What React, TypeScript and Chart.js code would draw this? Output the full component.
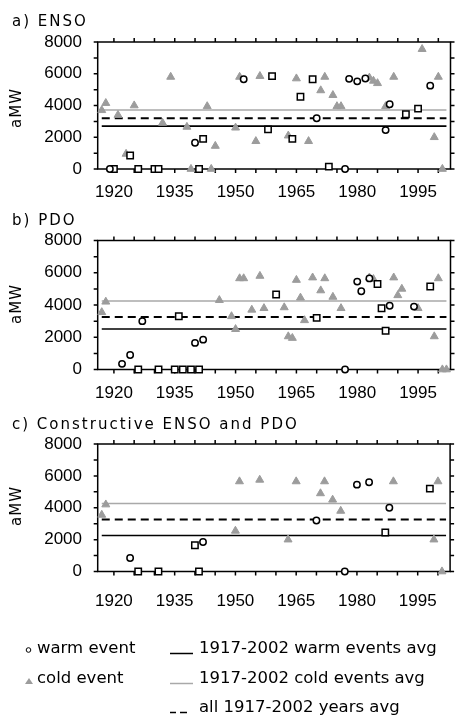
import React, { useEffect, useRef } from 'react';
import Chart from 'chart.js/auto';

// ---------- data ----------
const yearTicks = [1920, 1935, 1950, 1965, 1980, 1995];
const valueTicks = [0, 2000, 4000, 6000, 8000];
const yearMin = 1916;
const yearMax = 2003;
const avgStartYear = 1917;
const avgEndYear = 2002;

const panelTitles = ['a) ENSO', 'b) PDO', 'c) Constructive ENSO and PDO'];
const warmAvg = [2700, 2510, 2260];
const coldAvg = [3720, 4250, 4270];
const allAvg = [3200, 3260, 3260];

// a) ENSO
const ensoColdYears = [1917, 1918, 1921, 1923, 1925, 1932, 1934, 1938, 1939, 1943, 1944, 1945, 1950, 1951, 1955, 1956, 1963, 1965, 1968, 1971, 1972, 1974, 1975, 1976, 1983, 1984, 1985, 1987, 1989, 1996, 1999, 2000, 2001];
const ensoColdValues = [3700, 4150, 3400, 950, 4000, 2900, 5800, 2650, 0, 3950, 0, 1450, 2600, 5800, 1750, 5850, 2100, 5700, 1750, 4950, 5800, 4650, 3950, 3950, 5750, 5550, 5400, 3950, 5800, 7550, 2000, 5800, 0];
const ensoWarmYears = [1919, 1940, 1952, 1970, 1977, 1978, 1980, 1982, 1987, 1988, 1998];
const ensoWarmValues = [0, 1650, 5650, 3200, 0, 5680, 5520, 5700, 2450, 4080, 5250];
const ensoSquareYears = [1920, 1924, 1926, 1930, 1931, 1941, 1942, 1958, 1959, 1964, 1966, 1969, 1973, 1992, 1995];
const ensoSquareValues = [0, 850, 0, 0, 0, 0, 1900, 2500, 5850, 1900, 4550, 5650, 150, 3450, 3800];

// b) PDO
const pdoColdYears = [1917, 1918, 1946, 1949, 1950, 1951, 1952, 1954, 1956, 1957, 1962, 1963, 1964, 1965, 1966, 1967, 1969, 1971, 1972, 1974, 1976, 1983, 1984, 1989, 1990, 1991, 1995, 1999, 2000, 2001, 2002];
const pdoColdValues = [3550, 4200, 4300, 3300, 2500, 5650, 5650, 3700, 5800, 3800, 3850, 2050, 1950, 5550, 4450, 3050, 5700, 4900, 5650, 4500, 3800, 5700, 5600, 5700, 4600, 5000, 3800, 2050, 5650, 0, 0];
const pdoWarmYears = [1922, 1924, 1927, 1940, 1942, 1977, 1980, 1981, 1983, 1988, 1994];
const pdoWarmValues = [350, 900, 3000, 1650, 1850, 0, 5450, 4850, 5650, 3950, 3900];
const pdoSquareYears = [1926, 1931, 1935, 1936, 1937, 1939, 1941, 1960, 1970, 1985, 1986, 1987, 1998];
const pdoSquareValues = [0, 0, 0, 3300, 0, 0, 0, 4650, 3200, 5300, 3800, 2400, 5150];

// c) Constructive ENSO and PDO
const bothColdYears = [1917, 1918, 1950, 1951, 1956, 1963, 1965, 1971, 1972, 1974, 1976, 1989, 1999, 2000, 2001];
const bothColdValues = [3550, 4200, 2550, 5650, 5750, 2000, 5650, 4900, 5650, 4500, 3800, 5650, 2000, 5650, 0];
const bothWarmYears = [1924, 1942, 1970, 1977, 1980, 1983, 1988];
const bothWarmValues = [850, 1850, 3200, 0, 5450, 5600, 4000];
const bothSquareYears = [1926, 1931, 1940, 1941, 1987, 1998];
const bothSquareValues = [0, 0, 1650, 0, 2450, 5200];

const coldYears = [ensoColdYears, pdoColdYears, bothColdYears];
const coldValues = [ensoColdValues, pdoColdValues, bothColdValues];
const warmYears = [ensoWarmYears, pdoWarmYears, bothWarmYears];
const warmValues = [ensoWarmValues, pdoWarmValues, bothWarmValues];
const squareYears = [ensoSquareYears, pdoSquareYears, bothSquareYears];
const squareValues = [ensoSquareValues, pdoSquareValues, bothSquareValues];

// ---------- layout ----------
const W = 457;
const AREA_LEFT = 97.7;
const AREA_RIGHT = 450.5;
const layouts = [
  { top: 0, height: 205, areaTop: 42, areaBottom: 169, labelPad: 13.3, titleTop: 11.7, aMWy: 108 },
  { top: 205, height: 205, areaTop: 240.5, areaBottom: 369.5, labelPad: 13.8, titleTop: 210.7, aMWy: 304 },
  { top: 410, height: 210, areaTop: 444, areaBottom: 571.5, labelPad: 19.8, titleTop: 415, aMWy: 506 },
];

const GRAY_PT = '#9c9c9c';
const GRAY_LINE = '#a9a9a9';
const TEXT_FONT = '"DejaVu Sans", sans-serif';
const NUM_FONT = '"Liberation Sans", Arial, sans-serif';

const pts = (xs: number[], ys: number[]) => xs.map((x, i) => ({ x, y: ys[i] }));

const framePlugin = {
  id: 'frame',
  beforeDatasetsDraw(chart: any) {
    const { ctx, chartArea } = chart;
    const xs = chart.scales.x;
    const ys = chart.scales.y;
    const { left, right, top, bottom } = chartArea;
    ctx.save();
    ctx.strokeStyle = '#000';
    ctx.lineWidth = 1.5;
    ctx.strokeRect(left, top, right - left, bottom - top);
    ctx.beginPath();
    for (let yr = 1920; yr <= 2000; yr += 5) {
      const x = xs.getPixelForValue(yr);
      ctx.moveTo(x, top); ctx.lineTo(x, top - 4);
      ctx.moveTo(x, bottom); ctx.lineTo(x, bottom + 4);
    }
    for (let v = 0; v <= 8000; v += 1000) {
      const y = ys.getPixelForValue(v);
      ctx.moveTo(left, y); ctx.lineTo(left - 4, y);
      ctx.moveTo(right, y); ctx.lineTo(right + 4, y);
    }
    ctx.stroke();
    ctx.restore();
  },
};

function Panel({ idx }: { idx: number }) {
  const ref = useRef<HTMLCanvasElement>(null);
  const L = layouts[idx];
  useEffect(() => {
    if (!ref.current) return;
    const hline = (v: number) => [{ x: avgStartYear, y: v }, { x: avgEndYear, y: v }];
    const chart = new Chart(ref.current, {
      type: 'scatter',
      data: {
        datasets: [
          {
            label: 'warm event', data: pts(warmYears[idx], warmValues[idx]), pointStyle: 'circle',
            pointRadius: 3.2, borderWidth: 1.5, borderColor: '#000', backgroundColor: '#fff', clip: false, order: 0,
          },
          {
            label: 'other', data: pts(squareYears[idx], squareValues[idx]), pointStyle: 'rect',
            pointRadius: 4.5, borderWidth: 1.5, borderColor: '#000', backgroundColor: '#fff', clip: false, order: 1,
          },
          {
            label: 'cold event', data: pts(coldYears[idx], coldValues[idx]), pointStyle: 'triangle',
            pointRadius: 4.6, borderWidth: 1, borderColor: GRAY_PT, backgroundColor: GRAY_PT, clip: false, order: 2,
          },
          {
            type: 'line', label: 'all avg', data: hline(allAvg[idx]), borderColor: '#000', borderWidth: 2,
            borderDash: [8, 5], pointRadius: 0, showLine: true, order: 3,
          },
          {
            type: 'line', label: 'warm avg', data: hline(warmAvg[idx]), borderColor: '#000', borderWidth: 1.6,
            pointRadius: 0, showLine: true, order: 4,
          },
          {
            type: 'line', label: 'cold avg', data: hline(coldAvg[idx]), borderColor: GRAY_LINE, borderWidth: 1.6,
            pointRadius: 0, showLine: true, order: 5,
          },
        ] as any,
      },
      options: {
        responsive: false,
        animation: false,
        devicePixelRatio: 1,
        events: [],
        layout: { padding: { left: 0, right: W - AREA_RIGHT, top: L.areaTop - L.top, bottom: 0 } },
        plugins: { legend: { display: false }, tooltip: { enabled: false }, title: { display: false } },
        scales: {
          x: {
            type: 'linear', min: yearMin, max: yearMax,
            grid: { display: false, drawTicks: false }, border: { display: false },
            afterBuildTicks: (s: any) => { s.ticks = yearTicks.map((v) => ({ value: v })); },
            afterFit: (s: any) => { s.height = L.top + L.height - L.areaBottom; },
            ticks: {
              font: { family: NUM_FONT, size: 17 }, color: '#000', padding: L.labelPad,
              maxRotation: 0, autoSkip: false, callback: (v: any) => String(v),
            },
          },
          y: {
            type: 'linear', min: 0, max: 8000,
            grid: { display: false, drawTicks: false }, border: { display: false },
            afterBuildTicks: (s: any) => { s.ticks = valueTicks.map((v) => ({ value: v })); },
            afterFit: (s: any) => { s.width = AREA_LEFT; },
            ticks: {
              font: { family: NUM_FONT, size: 17 }, color: '#000', padding: 15.7,
              autoSkip: false, callback: (v: any) => String(v),
            },
          },
        },
      } as any,
      plugins: [framePlugin],
    });
    return () => chart.destroy();
  }, []);
  return (
    <>
      <canvas
        ref={ref}
        width={W}
        height={L.height}
        style={{ position: 'absolute', left: 0, top: L.top, width: W, height: L.height }}
      />
      <div
        style={{
          position: 'absolute', left: 12, top: L.titleTop, font: `15px ${TEXT_FONT}`, lineHeight: '18px',
          letterSpacing: '2px', whiteSpace: 'nowrap', color: '#000',
        }}
      >
        {panelTitles[idx]}
      </div>
      <div
        style={{
          position: 'absolute', left: 15.5, top: L.aMWy, font: `15px ${TEXT_FONT}`, lineHeight: '18px',
          letterSpacing: '1px', whiteSpace: 'nowrap', color: '#000',
          transform: 'translate(-50%, -50%) rotate(-90deg)',
        }}
      >
        aMW
      </div>
    </>
  );
}

const legendRows = [
  { top: 638.3, left: 'warm event', right: '1917-2002 warm events avg' },
  { top: 668.3, left: 'cold event', right: '1917-2002 cold events avg' },
  { top: 697.3, left: '', right: 'all 1917-2002 years avg' },
];

function Legend() {
  const textStyle = (left: number, top: number): React.CSSProperties => ({
    position: 'absolute', left, top, font: `16.5px ${TEXT_FONT}`, lineHeight: '20px', whiteSpace: 'nowrap', color: '#000',
  });
  return (
    <>
      <svg width={W} height={127} style={{ position: 'absolute', left: 0, top: 600 }}>
        <circle cx={28.5} cy={50} r={2.3} fill="#fff" stroke="#000" strokeWidth={1} />
        <polygon points="25,84 33,84 29,78" fill={GRAY_PT} />
        <line x1={170} x2={193} y1={53.5} y2={53.5} stroke="#000" strokeWidth={1.5} />
        <line x1={170} x2={193} y1={83.5} y2={83.5} stroke={GRAY_LINE} strokeWidth={1.5} />
        <line x1={170} x2={176} y1={112.5} y2={112.5} stroke="#000" strokeWidth={1.5} />
        <line x1={180} x2={187} y1={112.5} y2={112.5} stroke="#000" strokeWidth={1.5} />
      </svg>
      {legendRows.map((r, i) => (
        <React.Fragment key={i}>
          {r.left ? <div style={textStyle(37, r.top)}>{r.left}</div> : null}
          <div style={textStyle(199, r.top)}>{r.right}</div>
        </React.Fragment>
      ))}
    </>
  );
}

export default function App() {
  return (
    <div style={{ position: 'absolute', left: 0, top: 0, width: W, height: 727, background: '#fff', overflow: 'hidden' }}>
      <Panel idx={0} />
      <Panel idx={1} />
      <Panel idx={2} />
      <Legend />
    </div>
  );
}
